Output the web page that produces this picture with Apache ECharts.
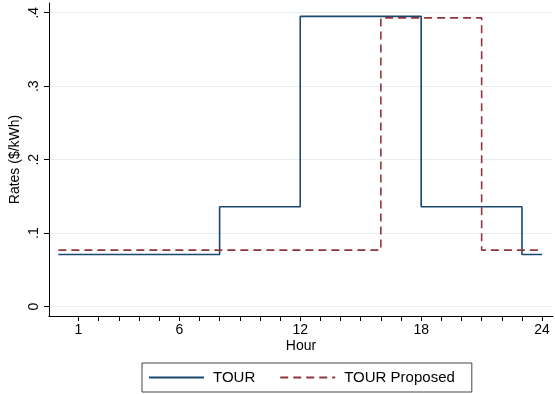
<!DOCTYPE html>
<html>
<head>
<meta charset="utf-8">
<script src="https://cdn.jsdelivr.net/npm/echarts@6/dist/echarts.min.js"></script>
<style>
html,body{margin:0;padding:0;background:#fff;}
#chart{width:555px;height:394px;}
</style>
</head>
<body>
<div id="chart"></div>
<script>
// Hour h covers the interval [h-1, h]
var hours = [1,2,3,4,5,6,7,8,9,10,11,12,13,14,15,16,17,18,19,20,21,22,23,24];
var tour = [0.071,0.071,0.071,0.071,0.071,0.071,0.071,0.071,
            0.136,0.136,0.136,0.136,
            0.395,0.395,0.395,0.395,0.395,0.395,
            0.136,0.136,0.136,0.136,0.136,
            0.071];
var tourProposed = [0.077,0.077,0.077,0.077,0.077,0.077,0.077,0.077,
                    0.077,0.077,0.077,0.077,0.077,0.077,0.077,0.077,
                    0.393,0.393,0.393,0.393,0.393,
                    0.077,0.077,0.077];
var xTicks = hours;
var xTickLabels = [1,6,12,18,24];
var yTicks = [0,0.1,0.2,0.3,0.4];
var seriesNames = ['TOUR','TOUR Proposed'];

function stepData(vals){
  var d = hours.map(function(h,i){ return [h-1, vals[i]]; });
  d.push([hours[hours.length-1], vals[vals.length-1]]);
  return d;
}

var FONT = '"Liberation Sans", Arial, Helvetica, sans-serif';
var chart = echarts.init(document.getElementById('chart'), null, {renderer:'canvas'});
chart.setOption({
  animation:false,
  backgroundColor:'#fff',
  textStyle:{fontFamily:FONT},
  grid:{left:46,right:2,top:3,bottom:78,containLabel:false},
  xAxis:{
    type:'value', min:-0.464, max:24.54,
    name:'Hour', nameLocation:'middle', nameGap:23, nameMoveOverlap:false,
    nameTextStyle:{fontSize:14,color:'#000',fontFamily:FONT},
    axisLine:{show:true,onZero:false,lineStyle:{color:'#000',width:1}},
    axisTick:{show:true,length:5,customValues:xTicks,lineStyle:{color:'#000'}},
    axisLabel:{show:true,customValues:xTickLabels,margin:7,fontSize:14,color:'#000',fontFamily:FONT},
    splitLine:{show:false}
  },
  yAxis:{
    type:'value', min:-0.0127, max:0.4132,
    name:'Rates ($/kWh)', nameLocation:'middle', nameGap:27, nameMoveOverlap:false,
    nameTextStyle:{fontSize:14,color:'#000',fontFamily:FONT},
    axisLine:{show:true,onZero:false,lineStyle:{color:'#000',width:1}},
    axisTick:{show:true,length:5,customValues:yTicks,lineStyle:{color:'#000'}},
    axisLabel:{show:true,customValues:yTicks,rotate:90,margin:8,fontSize:14,color:'#000',fontFamily:FONT,
      formatter:function(v){ return v===0 ? '0' : String(Math.round(v*10)/10).replace(/^0\./,'.'); }},
    splitLine:{show:true,lineStyle:{color:'#e6eef0',width:1}}
  },
  legend:{
    show:true, left:142, top:363, orient:'horizontal',
    itemWidth:55, itemHeight:14, itemGap:24,
    padding:[7,17,7,6], borderColor:'#444', borderWidth:1,
    itemStyle:{opacity:0},
    textStyle:{fontSize:15,color:'#000',fontFamily:FONT,padding:[0,0,0,4]},
    data:seriesNames
  },
  series:[
    {name:seriesNames[0], type:'line', step:'end', symbol:'none', data:stepData(tour),
     lineStyle:{color:'#1a476f',width:1.6}, itemStyle:{color:'#1a476f'}},
    {name:seriesNames[1], type:'line', step:'end', symbol:'none', data:stepData(tourProposed),
     lineStyle:{color:'#90353b',width:1.6,type:[8,5]}, itemStyle:{color:'#90353b'}}
  ]
});
</script>
</body>
</html>
